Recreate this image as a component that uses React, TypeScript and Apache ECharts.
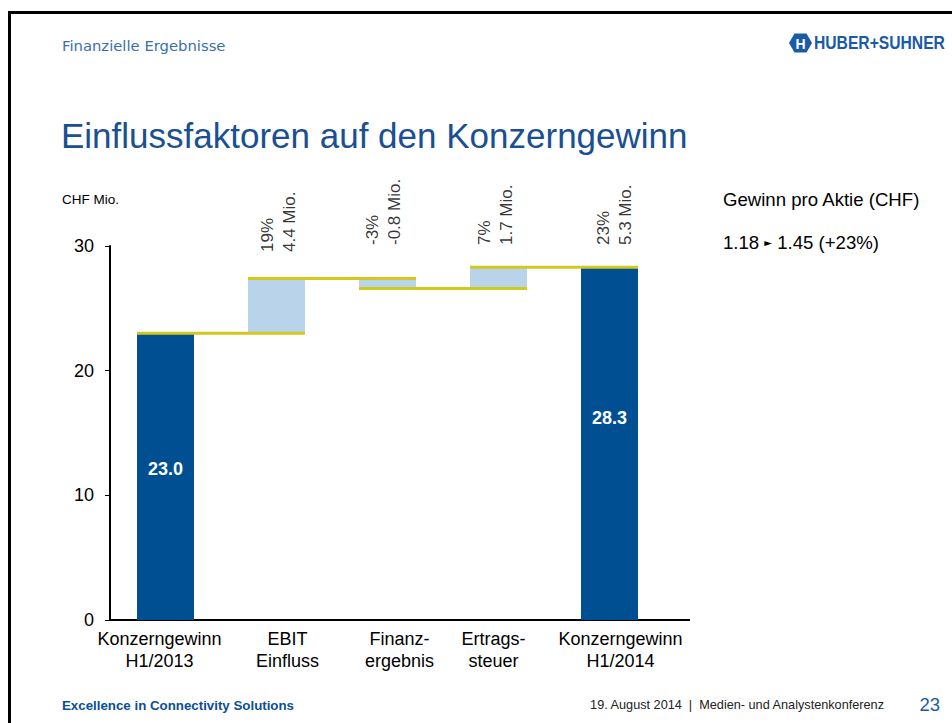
import React, { useEffect, useRef } from "react";
import * as echarts from "echarts";

// ---------- data ----------
const categories = [
  "Konzerngewinn\nH1/2013",
  "EBIT\nEinfluss",
  "Finanz-\nergebnis",
  "Ertrags-\nsteuer",
  "Konzerngewinn\nH1/2014",
];
const startValue = 23.0;
const changes = [4.4, -0.8, 1.7];
const endValue = 28.3;
const changePercents = ["19%", "-3%", "7%", "23%"];
const changeAmounts = ["4.4 Mio.", "-0.8 Mio.", "1.7 Mio.", "5.3 Mio."];
const yTicks = [0, 10, 20, 30];
const epsFrom = "1.18";
const epsTo = "1.45";
const epsChange = "+23%";

// ---------- style / layout ----------
const FONT = "'Liberation Sans', Arial, Helvetica, sans-serif";
const DARK = "#004f93";
const LIGHT = "#b9d3eb";
const YELLOW = "#d3c91c";
const BLUE_TEXT = "#1a4f93";
const BAR_W = 57;
const GRID = { left: 110, top: 246, width: 555, height: 374 };
const AXIS_EXT_RIGHT = 690;
// desired screen offsets [dx, dy] of the rotated labels
const LABEL_SCREEN_OFFSETS = [
  [2, 6],
  [-4, -1],
  [-3, -1],
  [5, -1],
];
const TOTAL_LABEL_OFFSETS = [-8, -26];
const XLABEL_SHIFT = [-6, 11, 12, -5, 11];

const round1 = (v: number) => Math.round(v * 10) / 10;

function buildOption() {
  const yMin = yTicks[0];
  const yMax = yTicks[yTicks.length - 1];
  const yInterval = yTicks[1] - yTicks[0];

  const levels: number[] = [startValue];
  changes.forEach((c) => levels.push(round1(levels[levels.length - 1] + c)));
  const bases = [0, ...changes.map((_, i) => Math.min(levels[i], levels[i + 1])), 0];
  const heights = [startValue, ...changes.map((c) => Math.abs(c)), endValue];
  const lastIdx = heights.length - 1;

  const rich: Record<string, any> = {};
  XLABEL_SHIFT.forEach((s, i) => {
    rich["s" + i] = {
      fontSize: 18,
      lineHeight: 22,
      fontFamily: FONT,
      color: "#000",
      align: "center",
      padding: s >= 0 ? [0, 0, 0, 2 * s] : [0, -2 * s, 0, 0],
    };
  });

  const axisBottomY = GRID.top + GRID.height;

  return {
    animation: false,
    backgroundColor: "#ffffff",
    grid: { left: GRID.left, top: GRID.top, width: GRID.width, height: GRID.height, containLabel: false },
    xAxis: {
      type: "category",
      data: categories,
      axisLine: { show: true, lineStyle: { color: "#000", width: 2 } },
      axisTick: { show: false },
      splitLine: { show: false },
      axisLabel: {
        interval: 0,
        margin: 8,
        formatter: (v: string, idx: number) =>
          v
            .split("\n")
            .map((line) => `{s${idx}|${line}}`)
            .join("\n"),
        rich,
      },
    },
    yAxis: {
      type: "value",
      min: yMin,
      max: yMax,
      interval: yInterval,
      axisLine: { show: true, lineStyle: { color: "#000", width: 2 } },
      axisTick: { show: true, length: 5, inside: false, lineStyle: { color: "#000", width: 1 } },
      splitLine: { show: false },
      axisLabel: { fontSize: 18, fontFamily: FONT, color: "#000", margin: 16 },
    },
    series: [
      {
        type: "bar",
        stack: "w",
        data: bases,
        barWidth: BAR_W,
        itemStyle: { color: "rgba(0,0,0,0)" },
        silent: true,
        z: 2,
      },
      {
        type: "bar",
        stack: "w",
        barWidth: BAR_W,
        z: 3,
        label: {
          show: false,
          position: "inside",
          color: "#fff",
          fontWeight: "bold",
          fontSize: 18,
          fontFamily: FONT,
          formatter: (p: any) => Number(p.value).toFixed(1),
        },
        data: heights.map((v, i) => {
          const total = i === 0 || i === lastIdx;
          return {
            value: v,
            itemStyle: { color: total ? DARK : LIGHT },
            label: total
              ? { show: true, offset: [0, TOTAL_LABEL_OFFSETS[i === 0 ? 0 : 1]] }
              : { show: false },
          };
        }),
      },
      {
        type: "custom",
        z: 4,
        silent: true,
        data: levels.map((lv, i) => [i, lv]),
        renderItem: (_params: any, api: any) => {
          const i = api.value(0) as number;
          const lv = api.value(1) as number;
          const a = api.coord([i, lv]);
          const b = api.coord([i + 1, lv]);
          return {
            type: "line",
            shape: { x1: a[0] - BAR_W / 2, y1: a[1], x2: b[0] + BAR_W / 2, y2: b[1] },
            style: { stroke: YELLOW, lineWidth: 3 },
          };
        },
      },
      {
        type: "scatter",
        z: 5,
        silent: true,
        symbolSize: 1,
        itemStyle: { color: "rgba(0,0,0,0)" },
        label: {
          show: true,
          position: "inside",
          rotate: 90,
          align: "left",
          verticalAlign: "middle",
          fontSize: 17,
          lineHeight: 22,
          fontFamily: FONT,
          color: "#000",
          formatter: (p: any) => `${changePercents[p.dataIndex]}\n${changeAmounts[p.dataIndex]}`,
        },
        data: changePercents.map((_, i) => {
          const [dx, dy] = LABEL_SCREEN_OFFSETS[i];
          // offset is applied in the label's rotated frame
          return { value: [i + 1, yMax], label: { offset: [-dy, dx] } };
        }),
      },
    ],
    graphic: {
      elements: [
        // slide frame
        { type: "line", shape: { x1: 9.5, y1: 11.5, x2: 9.5, y2: 723 }, style: { stroke: "#000", lineWidth: 3 } },
        { type: "line", shape: { x1: 8, y1: 12.5, x2: 952, y2: 12.5 }, style: { stroke: "#000", lineWidth: 3 } },
        // x-axis extension
        {
          type: "line",
          shape: { x1: GRID.left + GRID.width - 1, y1: axisBottomY, x2: AXIS_EXT_RIGHT, y2: axisBottomY },
          style: { stroke: "#000", lineWidth: 2 },
        },
        {
          type: "text",
          x: 62,
          y: 45,
          style: {
            text: "Finanzielle Ergebnisse",
            fill: "#3a6fab",
            fontSize: 14.8,
            fontFamily: "'DejaVu Sans', Verdana, sans-serif",
            verticalAlign: "middle",
          },
        },
        {
          type: "text",
          x: 61,
          y: 135,
          style: {
            text: "Einflussfaktoren auf den Konzerngewinn",
            fill: BLUE_TEXT,
            fontSize: 35,
            fontFamily: FONT,
            verticalAlign: "middle",
          },
        },
        {
          type: "text",
          x: 62,
          y: 199,
          style: { text: "CHF Mio.", fill: "#000", fontSize: 13.5, fontFamily: FONT, verticalAlign: "middle" },
        },
        {
          type: "text",
          x: 723,
          y: 199,
          style: {
            text: "Gewinn pro Aktie (CHF)",
            fill: "#000",
            fontSize: 18.6,
            fontFamily: FONT,
            verticalAlign: "middle",
          },
        },
        {
          type: "text",
          x: 723,
          y: 242,
          style: {
            text: `{n|${epsFrom} }{t|►}{n| ${epsTo} (${epsChange})}`,
            verticalAlign: "middle",
            rich: {
              n: { fontSize: 18.6, fontFamily: FONT, fill: "#000", color: "#000" },
              t: { fontSize: 10, fontFamily: "'DejaVu Sans', sans-serif", color: "#000", fill: "#000" },
            },
          },
        },
        // footer
        {
          type: "text",
          x: 62,
          y: 705,
          style: {
            text: "Excellence in Connectivity Solutions",
            fill: "#0b4f96",
            fontSize: 13.3,
            fontWeight: "bold",
            fontFamily: FONT,
            verticalAlign: "middle",
          },
        },
        {
          type: "text",
          x: 884,
          y: 705,
          style: {
            text: "19. August 2014  |  Medien- und Analystenkonferenz",
            fill: "#222",
            fontSize: 12.7,
            fontFamily: FONT,
            align: "right",
            verticalAlign: "middle",
          },
        },
        {
          type: "text",
          x: 940,
          y: 704,
          style: {
            text: "23",
            fill: "#1b5aa6",
            fontSize: 18.5,
            fontFamily: FONT,
            align: "right",
            verticalAlign: "middle",
          },
        },
        // logo
        {
          type: "polygon",
          shape: {
            points: [
              [789, 43],
              [794.5, 33.5],
              [806.5, 33.5],
              [812, 43],
              [806.5, 52.5],
              [794.5, 52.5],
            ],
          },
          style: { fill: "#1b5aa6" },
        },
        {
          type: "text",
          x: 800.5,
          y: 43.5,
          style: {
            text: "H",
            fill: "#fff",
            fontSize: 14,
            fontWeight: "bold",
            fontFamily: FONT,
            align: "center",
            verticalAlign: "middle",
          },
        },
        {
          type: "text",
          x: 814,
          y: 43.5,
          scaleX: 0.87,
          style: {
            text: "HUBER+SUHNER",
            x: 0,
            y: 0,
            fill: "#1b5aa6",
            fontSize: 18,
            fontWeight: "bold",
            fontFamily: FONT,
            verticalAlign: "middle",
          },
        },
      ],
    },
  };
}

export default function App() {
  const ref = useRef<HTMLDivElement>(null);
  useEffect(() => {
    if (!ref.current) return;
    const chart = echarts.init(ref.current, undefined, { renderer: "svg" });
    chart.setOption(buildOption() as any);
    return () => chart.dispose();
  }, []);
  return (
    <div
      ref={ref}
      style={{ position: "fixed", left: 0, top: 0, width: 952, height: 723, background: "#fff" }}
    />
  );
}
